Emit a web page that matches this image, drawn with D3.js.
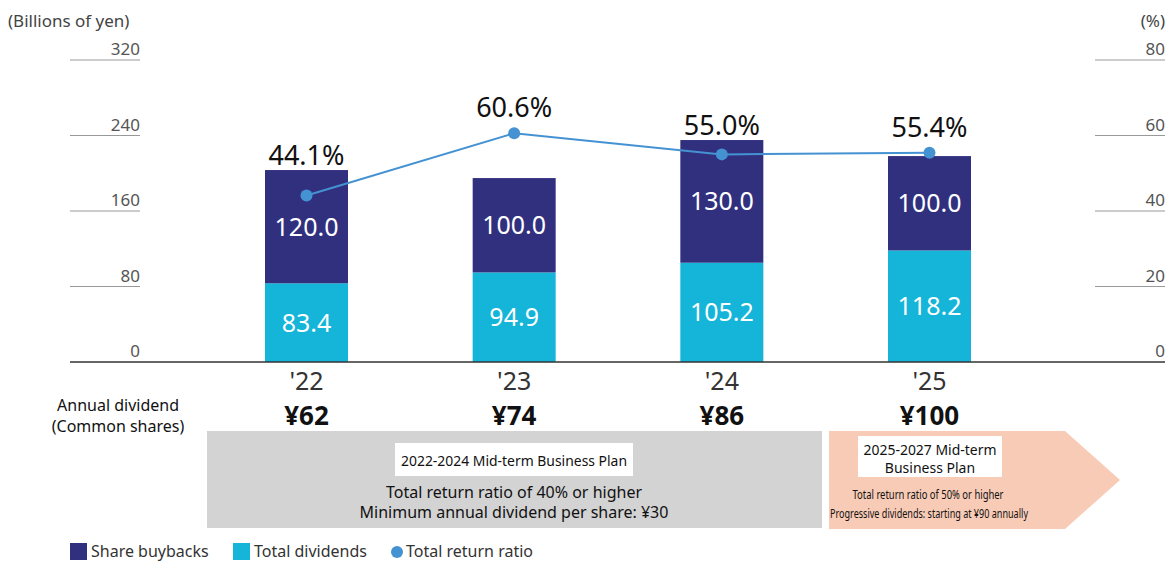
<!DOCTYPE html>
<html>
<head>
<meta charset="utf-8">
<script src="https://cdn.jsdelivr.net/npm/d3@7"></script>
<style>
  body { margin: 0; background: #fff; }
  svg text { font-family: "Noto Sans", "DejaVu Sans", sans-serif; }
</style>
</head>
<body>
<div id="chart"></div>
<script>
// data
var years = ["'22", "'23", "'24", "'25"];
var buybacks = [120.0, 100.0, 130.0, 100.0];
var dividends = [83.4, 94.9, 105.2, 118.2];
var returnRatio = [44.1, 60.6, 55.0, 55.4];
var annualDividend = ["¥62", "¥74", "¥86", "¥100"];
var leftTicks = [0, 80, 160, 240, 320];
var rightTicks = [0, 20, 40, 60, 80];

var W = 1168, H = 563;
var navy = "#31307f", cyan = "#14b5d9", lineBlue = "#4592d3";

var svg = d3.select("#chart").append("svg")
    .attr("width", W)
    .attr("height", H);

var x = d3.scalePoint().domain(years).range([306.5, 929.5]);
var y = d3.scaleLinear().domain([0, 320]).range([362, 60]);
var y2 = d3.scaleLinear().domain([0, 80]).range([362, 60]);
var barW = 83;

// unit labels
svg.append("text").attr("x", 8).attr("y", 27)
    .attr("font-size", 17).attr("fill", "#444").text("(Billions of yen)");
svg.append("text").attr("x", 1165).attr("y", 27).attr("text-anchor", "end")
    .attr("font-size", 17).attr("fill", "#444").text("(%)");

// left ticks: short segments with label on top
var lt = svg.append("g").selectAll("g").data(leftTicks).enter().append("g")
    .attr("transform", function (d) { return "translate(0," + y(d) + ")"; });
lt.filter(function (d) { return d > 0; }).append("line")
    .attr("x1", 70).attr("x2", 140).attr("stroke", "#999").attr("stroke-width", 1);
lt.append("text").attr("x", 140).attr("y", -5).attr("text-anchor", "end")
    .attr("font-size", 17).attr("fill", "#555").text(function (d) { return d; });

// right ticks
var rt = svg.append("g").selectAll("g").data(rightTicks).enter().append("g")
    .attr("transform", function (d) { return "translate(0," + y2(d) + ")"; });
rt.filter(function (d) { return d > 0; }).append("line")
    .attr("x1", 1095).attr("x2", 1165).attr("stroke", "#999").attr("stroke-width", 1);
rt.append("text").attr("x", 1165).attr("y", -5).attr("text-anchor", "end")
    .attr("font-size", 17).attr("fill", "#555").text(function (d) { return d; });

// stacked bars
var bars = svg.append("g").selectAll("g").data(years).enter().append("g");
bars.append("rect")
    .attr("x", function (d) { return x(d) - barW / 2; })
    .attr("width", barW)
    .attr("y", function (d, i) { return y(dividends[i]); })
    .attr("height", function (d, i) { return y(0) - y(dividends[i]); })
    .attr("fill", cyan);
bars.append("rect")
    .attr("x", function (d) { return x(d) - barW / 2; })
    .attr("width", barW)
    .attr("y", function (d, i) { return y(dividends[i] + buybacks[i]); })
    .attr("height", function (d, i) { return y(dividends[i]) - y(dividends[i] + buybacks[i]); })
    .attr("fill", navy);
bars.append("text")
    .attr("x", function (d) { return x(d); })
    .attr("y", function (d, i) { return (y(0) + y(dividends[i])) / 2 + 9; })
    .attr("text-anchor", "middle").attr("font-size", 25).attr("fill", "#fff")
    .text(function (d, i) { return dividends[i].toFixed(1); });
bars.append("text")
    .attr("x", function (d) { return x(d); })
    .attr("y", function (d, i) { return (y(dividends[i]) + y(dividends[i] + buybacks[i])) / 2 + 9; })
    .attr("text-anchor", "middle").attr("font-size", 25).attr("fill", "#fff")
    .text(function (d, i) { return buybacks[i].toFixed(1); });

// baseline
svg.append("line").attr("x1", 70).attr("x2", 1165)
    .attr("y1", y(0)).attr("y2", y(0)).attr("stroke", "#333").attr("stroke-width", 1.5);

// total return ratio line
var line = d3.line()
    .x(function (d, i) { return x(years[i]); })
    .y(function (d) { return y2(d); });
svg.append("path").datum(returnRatio)
    .attr("d", line).attr("fill", "none")
    .attr("stroke", lineBlue).attr("stroke-width", 2);
svg.append("g").selectAll("circle").data(returnRatio).enter().append("circle")
    .attr("cx", function (d, i) { return x(years[i]); })
    .attr("cy", function (d) { return y2(d); })
    .attr("r", 6).attr("fill", lineBlue);

// percent labels above bar top or dot
svg.append("g").selectAll("text").data(returnRatio).enter().append("text")
    .attr("x", function (d, i) { return x(years[i]); })
    .attr("y", function (d, i) {
      return Math.min(y(dividends[i] + buybacks[i]) - 5, y2(d) - 16);
    })
    .attr("text-anchor", "middle").attr("font-size", 27).attr("fill", "#111")
    .text(function (d) { return d.toFixed(1) + "%"; });

// year labels and annual dividend
svg.append("g").selectAll("text").data(years).enter().append("text")
    .attr("x", function (d) { return x(d); }).attr("y", 390)
    .attr("text-anchor", "middle").attr("font-size", 25).attr("fill", "#333")
    .text(function (d) { return d; });
svg.append("g").selectAll("text").data(annualDividend).enter().append("text")
    .attr("x", function (d, i) { return x(years[i]); }).attr("y", 425)
    .attr("text-anchor", "middle").attr("font-size", 26).attr("font-weight", "bold")
    .attr("fill", "#111").text(function (d) { return d; });
svg.append("text").attr("x", 118).attr("y", 411).attr("text-anchor", "middle")
    .attr("font-size", 16).attr("fill", "#111").text("Annual dividend");
svg.append("text").attr("x", 118).attr("y", 432).attr("text-anchor", "middle")
    .attr("font-size", 16).attr("fill", "#111").text("(Common shares)");

// 2022-2024 plan box
svg.append("rect").attr("x", 207).attr("y", 431).attr("width", 615).attr("height", 97)
    .attr("fill", "#d3d3d3");
svg.append("rect").attr("x", 395).attr("y", 443).attr("width", 238).attr("height", 33)
    .attr("fill", "#fff");
svg.append("text").attr("x", 514).attr("y", 466).attr("text-anchor", "middle")
    .attr("font-size", 15).attr("fill", "#111")
    .attr("textLength", 226).attr("lengthAdjust", "spacingAndGlyphs")
    .text("2022-2024 Mid-term Business Plan");
svg.append("text").attr("x", 514).attr("y", 498).attr("text-anchor", "middle")
    .attr("font-size", 16).attr("fill", "#111")
    .text("Total return ratio of 40% or higher");
svg.append("text").attr("x", 514).attr("y", 518).attr("text-anchor", "middle")
    .attr("font-size", 16).attr("fill", "#111")
    .text("Minimum annual dividend per share: ¥30");

// 2025-2027 plan arrow
svg.append("path")
    .attr("d", "M829,431 L1065,431 L1120,480 L1065,529 L829,529 Z")
    .attr("fill", "#f8cbb6");
svg.append("rect").attr("x", 858).attr("y", 436).attr("width", 144).attr("height", 41)
    .attr("fill", "#fff");
svg.append("text").attr("x", 930).attr("y", 455).attr("text-anchor", "middle")
    .attr("font-size", 14).attr("fill", "#111")
    .attr("textLength", 133).attr("lengthAdjust", "spacingAndGlyphs")
    .text("2025-2027 Mid-term");
svg.append("text").attr("x", 930).attr("y", 473).attr("text-anchor", "middle")
    .attr("font-size", 14).attr("fill", "#111")
    .text("Business Plan");
svg.append("text").attr("x", 928).attr("y", 499).attr("text-anchor", "middle")
    .attr("font-size", 13).attr("fill", "#111")
    .attr("textLength", 151).attr("lengthAdjust", "spacingAndGlyphs")
    .text("Total return ratio of 50% or higher");
svg.append("text").attr("x", 929).attr("y", 518).attr("text-anchor", "middle")
    .attr("font-size", 13).attr("fill", "#111")
    .attr("textLength", 198).attr("lengthAdjust", "spacingAndGlyphs")
    .text("Progressive dividends: starting at ¥90 annually");

// legend
var legend = svg.append("g").attr("transform", "translate(0,551)");
legend.append("rect").attr("x", 70).attr("y", -8).attr("width", 17).attr("height", 17).attr("fill", navy);
legend.append("text").attr("x", 91).attr("y", 6).attr("font-size", 16).attr("fill", "#333").text("Share buybacks");
legend.append("rect").attr("x", 233).attr("y", -8).attr("width", 17).attr("height", 17).attr("fill", cyan);
legend.append("text").attr("x", 254).attr("y", 6).attr("font-size", 16).attr("fill", "#333").text("Total dividends");
legend.append("circle").attr("cx", 397).attr("cy", 1).attr("r", 6).attr("fill", lineBlue);
legend.append("text").attr("x", 406).attr("y", 6).attr("font-size", 16).attr("fill", "#333").text("Total return ratio");
</script>
</body>
</html>
